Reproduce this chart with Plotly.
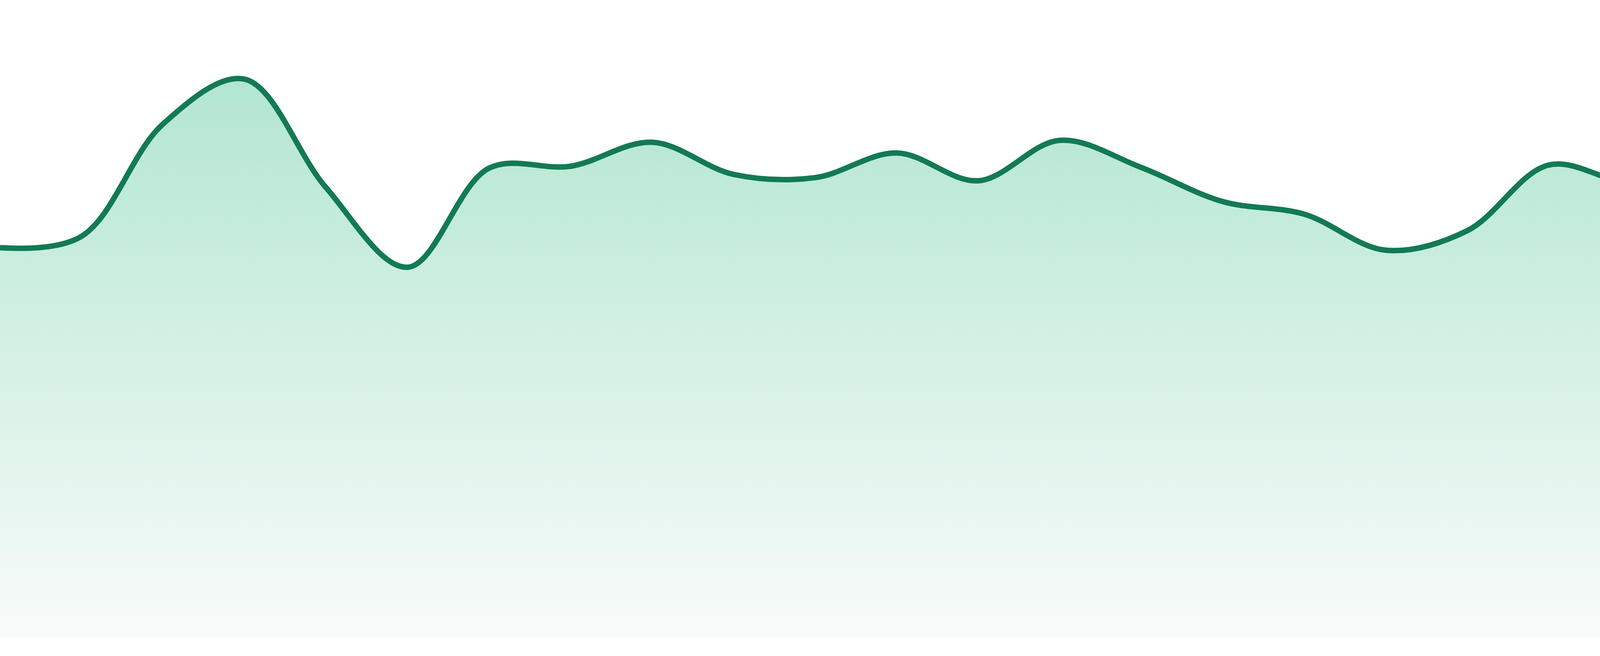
import plotly.graph_objects as go

# 24 readings, evenly spaced
points = list(range(1, 25))
values = [61.7, 63.5, 81.3, 88.4, 71.2, 58.6, 74.3, 74.6, 78.4, 73.3, 72.8, 76.7,
          72.3, 78.7, 74.4, 69.0, 67.0, 61.3, 64.4, 74.8, 71.9, 73.1, 71.4, 63.5]

line_color = "#127a54"
top_color = "#b2e6d0"
bottom_color = "#f8fbfa"

trace = go.Scatter(
    x=points,
    y=values,
    mode="lines",
    line=dict(color=line_color, width=14, shape="spline", smoothing=1.0, simplify=False),
    fill="tozeroy",
    fillgradient=dict(
        type="vertical",
        colorscale=[[0, bottom_color], [1, top_color]],
        start=0,
        stop=max(values),
    ),
    hoverinfo="skip",
)

fig = go.Figure(trace)
fig.update_layout(
    width=4800,
    height=1680,
    margin=dict(l=0, r=0, t=15, b=48),
    paper_bgcolor="white",
    plot_bgcolor="white",
    showlegend=False,
    xaxis=dict(visible=False, range=[points[0], points[-1]], fixedrange=True),
    yaxis=dict(visible=False, range=[0, 100], fixedrange=True),
)

# drop the default page margin so the 4800x1680 figure fills the window
fig.write_html("out.html", config={"displayModeBar": False},
               post_script="document.body.style.margin='0';")
